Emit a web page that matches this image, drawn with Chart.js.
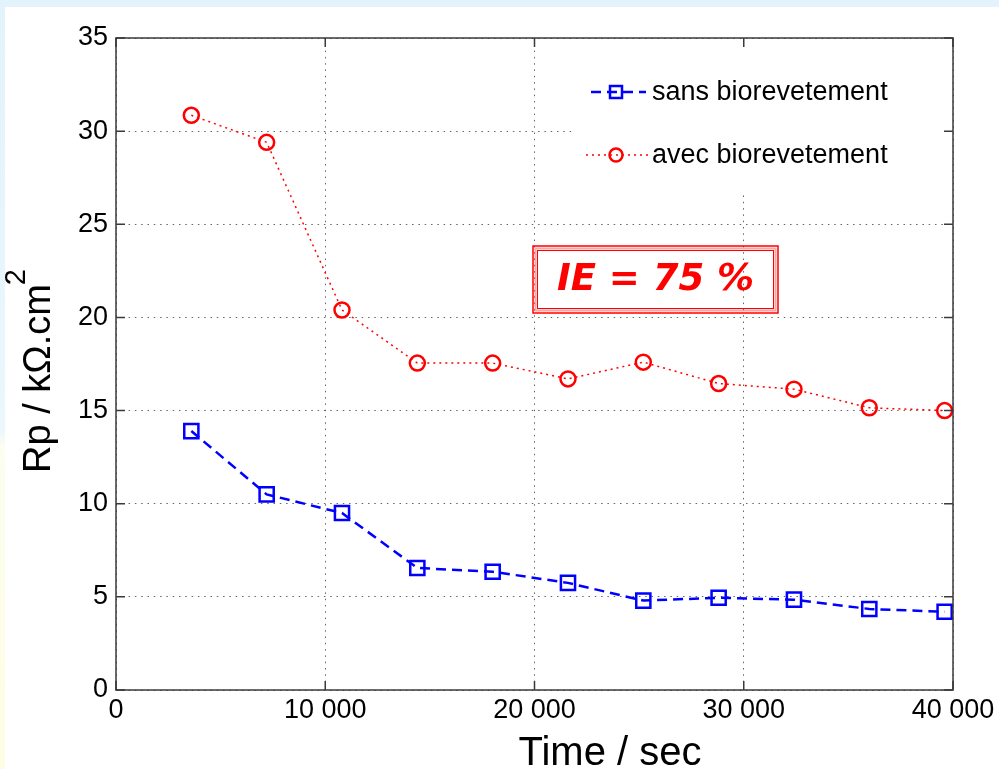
<!DOCTYPE html>
<html>
<head>
<meta charset="utf-8">
<script src="https://cdn.jsdelivr.net/npm/chart.js@4.4.1/dist/chart.umd.min.js"></script>
<style>
  html, body { margin: 0; padding: 0; width: 999px; height: 769px; overflow: hidden; }
  body { background: linear-gradient(to bottom, #e3f3fb 0%, #eaf7fd 56%, #fdfdf0 58%, #fdfde4 100%); position: relative; }
  #chart { position: absolute; left: 5px; top: 7px; background: #ffffff; }
</style>
</head>
<body>
<canvas id="chart" width="994" height="762"></canvas>
<script>
// measurements, one every hour
const timeSec = [3600, 7200, 10800, 14400, 18000, 21600, 25200, 28800, 32400, 36000, 39600];
const rpSans = [13.9, 10.5, 9.5, 6.55, 6.35, 5.75, 4.8, 4.95, 4.85, 4.35, 4.2];
const rpAvec = [30.85, 29.4, 20.4, 17.55, 17.55, 16.7, 17.6, 16.45, 16.15, 15.15, 15.0];
const xTicks = [0, 10000, 20000, 30000, 40000];
const yTicks = [0, 5, 10, 15, 20, 25, 30, 35];
const seriesNames = ['sans biorevetement', 'avec biorevetement'];

const BLUE = '#0000ff';
const RED = '#ff0000';
const FONT = 'Arial, "Liberation Sans", sans-serif';

function fmt(v) {
    return String(v).replace(/\B(?=(\d{3})+(?!\d))/g, ' ');
}

function pts(ys) {
    return timeSec.map(function(t, i) { return { x: t, y: ys[i] }; });
}

// white legend box, samples and texts (drawn after the grid, under the data)
const legendBox = {
    id: 'legendBox',
    beforeDatasetsDraw: function(chart) {
        const ctx = chart.ctx, ca = chart.chartArea;
        ctx.save();
        ctx.fillStyle = '#ffffff';
        ctx.fillRect(ca.left + 456, ca.top + 1, ca.right - ca.left - 457, 152);

        const x0 = ca.left + 470;
        const rows = [ca.top + 54, ca.top + 117];

        // blue sample
        ctx.strokeStyle = BLUE;
        ctx.lineWidth = 2.5;
        ctx.setLineDash([10, 6]);
        ctx.beginPath();
        ctx.moveTo(x0 + 5, rows[0]);
        ctx.lineTo(x0 + 60, rows[0]);
        ctx.stroke();
        ctx.setLineDash([]);
        ctx.lineWidth = 2.5;
        ctx.strokeRect(x0 + 24, rows[0] - 6, 12, 12);

        // red sample
        ctx.strokeStyle = RED;
        ctx.lineWidth = 1.5;
        ctx.setLineDash([2, 4]);
        ctx.beginPath();
        ctx.moveTo(x0, rows[1]);
        ctx.lineTo(x0 + 62, rows[1]);
        ctx.stroke();
        ctx.setLineDash([]);
        ctx.lineWidth = 2.5;
        ctx.beginPath();
        ctx.arc(x0 + 30, rows[1], 6.5, 0, Math.PI * 2);
        ctx.stroke();

        ctx.fillStyle = '#000000';
        ctx.font = '27px ' + FONT;
        ctx.textAlign = 'left';
        ctx.textBaseline = 'middle';
        ctx.fillText(seriesNames[0], x0 + 66, rows[0] + 1);
        ctx.fillText(seriesNames[1], x0 + 66, rows[1] + 1);
        ctx.restore();
    }
};

// box frame with inward ticks, axis titles and the IE note
const frame = {
    id: 'frame',
    afterDraw: function(chart) {
        const ctx = chart.ctx, ca = chart.chartArea;
        const xs = chart.scales.x, ys = chart.scales.y;
        ctx.save();
        ctx.strokeStyle = '#3a3a3a';
        ctx.lineWidth = 1.5;
        ctx.strokeRect(ca.left, ca.top, ca.right - ca.left, ca.bottom - ca.top);
        ctx.beginPath();
        xTicks.forEach(function(v) {
            const px = xs.getPixelForValue(v);
            ctx.moveTo(px, ca.bottom); ctx.lineTo(px, ca.bottom - 9);
            ctx.moveTo(px, ca.top); ctx.lineTo(px, ca.top + 9);
        });
        yTicks.forEach(function(v) {
            const py = ys.getPixelForValue(v);
            ctx.moveTo(ca.left, py); ctx.lineTo(ca.left + 9, py);
            ctx.moveTo(ca.right, py); ctx.lineTo(ca.right - 9, py);
        });
        ctx.stroke();

        // axis titles
        ctx.fillStyle = '#000000';
        ctx.font = '40px ' + FONT;
        ctx.textAlign = 'center';
        ctx.textBaseline = 'alphabetic';
        ctx.fillText('Time / sec', ca.left + 494, ca.bottom + 75);

        ctx.translate(ca.left - 66, ca.bottom - 217);
        ctx.rotate(-Math.PI / 2);
        ctx.textAlign = 'left';
        ctx.font = '38px ' + FONT;
        const main = 'Rp / k\u03A9.cm';
        ctx.fillText(main, 0, 0);
        const w = ctx.measureText(main).width;
        ctx.font = '29px ' + FONT;
        ctx.fillText('2', w - 1, -25);
        ctx.setTransform(1, 0, 0, 1, 0, 0);

        // IE box
        const bx = ca.left + 417, by = ca.top + 208, bw = 245, bh = 67;
        ctx.strokeStyle = RED;
        ctx.lineWidth = 1.5;
        ctx.strokeRect(bx, by, bw, bh);
        ctx.strokeStyle = 'rgba(255, 90, 90, 0.55)';
        ctx.lineWidth = 2;
        ctx.strokeRect(bx + 2.5, by + 2.5, bw - 5, bh - 5);
        ctx.strokeStyle = RED;
        ctx.lineWidth = 1;
        ctx.strokeRect(bx + 4.5, by + 4.5, bw - 9, bh - 9);

        ctx.fillStyle = RED;
        ctx.font = 'italic bold 37px "DejaVu Sans", Verdana, sans-serif';
        ctx.textAlign = 'center';
        ctx.textBaseline = 'middle';
        ctx.fillText('IE = 75 %', bx + bw / 2, by + bh / 2 + 1);
        ctx.restore();
    }
};

const ctx = document.getElementById('chart').getContext('2d');

new Chart(ctx, {
    type: 'line',
    data: {
        datasets: [
            {
                label: seriesNames[0],
                data: pts(rpSans),
                borderColor: BLUE,
                borderWidth: 2.5,
                borderDash: [10, 6],
                pointStyle: 'rect',
                pointRadius: 10,
                pointBorderWidth: 2.5,
                pointBorderColor: BLUE,
                pointBackgroundColor: 'rgba(0,0,0,0)',
                fill: false,
                tension: 0
            },
            {
                label: seriesNames[1],
                data: pts(rpAvec),
                borderColor: RED,
                borderWidth: 1.5,
                borderDash: [2, 4],
                pointStyle: 'circle',
                pointRadius: 7.5,
                pointBorderWidth: 2.5,
                pointBorderColor: RED,
                pointBackgroundColor: 'rgba(0,0,0,0)',
                fill: false,
                tension: 0
            }
        ]
    },
    options: {
        responsive: false,
        devicePixelRatio: 1,
        animation: false,
        layout: { padding: { top: 31, right: 46, left: 0, bottom: 0 } },
        plugins: {
            legend: { display: false },
            tooltip: { enabled: false }
        },
        scales: {
            x: {
                type: 'linear',
                min: 0,
                max: 40000,
                afterBuildTicks: function(scale) {
                    scale.ticks = xTicks.map(function(v) { return { value: v }; });
                },
                afterFit: function(scale) { scale.height = 79; },
                ticks: {
                    color: '#000000',
                    font: { family: FONT, size: 27 },
                    padding: 4,
                    maxRotation: 0,
                    callback: function(v) { return fmt(v); }
                },
                grid: { color: '#666666', lineWidth: 1, drawTicks: false },
                border: { display: false, dash: [1.5, 4.8] }
            },
            y: {
                min: 0,
                max: 35,
                afterBuildTicks: function(scale) {
                    scale.ticks = yTicks.map(function(v) { return { value: v }; });
                },
                afterFit: function(scale) { scale.width = 111; },
                ticks: {
                    color: '#000000',
                    font: { family: FONT, size: 27 },
                    padding: 8
                },
                grid: { color: '#666666', lineWidth: 1, drawTicks: false },
                border: { display: false, dash: [1.5, 4.8] }
            }
        }
    },
    plugins: [legendBox, frame]
});
</script>
</body>
</html>
